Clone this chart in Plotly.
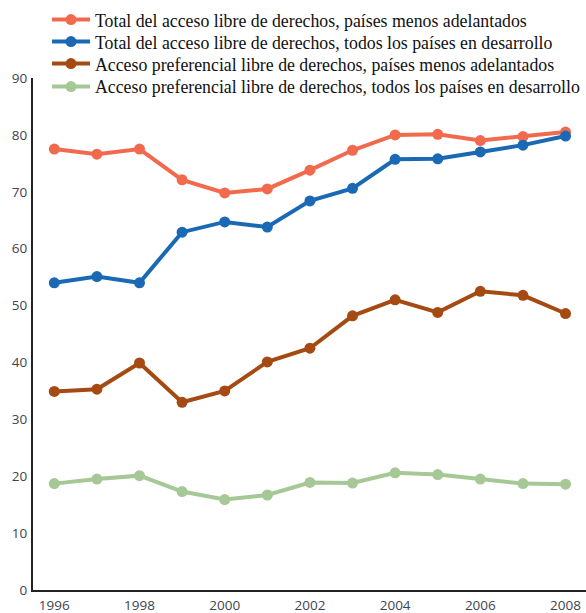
import plotly.graph_objects as go

years = [1996, 1997, 1998, 1999, 2000, 2001, 2002, 2003, 2004, 2005, 2006, 2007, 2008]

names = [
    "Total del acceso libre de derechos, países menos adelantados",
    "Total del acceso libre de derechos, todos los países en desarrollo",
    "Acceso preferencial libre de derechos, países menos adelantados",
    "Acceso preferencial libre de derechos, todos los países en desarrollo",
]

total_ldc = [77.5, 76.6, 77.5, 72.1, 69.8, 70.5, 73.8, 77.3, 80.0, 80.1, 79.0, 79.7, 80.5]
total_dev = [54.0, 55.1, 54.0, 62.9, 64.7, 63.8, 68.4, 70.6, 75.7, 75.8, 77.0, 78.2, 79.8]
pref_ldc = [34.9, 35.3, 39.9, 33.0, 35.0, 40.1, 42.5, 48.2, 51.0, 48.8, 52.5, 51.8, 48.6]
pref_dev = [18.7, 19.5, 20.1, 17.3, 15.9, 16.7, 18.9, 18.8, 20.6, 20.3, 19.5, 18.7, 18.6]

colors = ["#F26A4E", "#1A69B4", "#A54A12", "#A6C896"]

y_ticks = [0, 10, 20, 30, 40, 50, 60, 70, 80, 90]
x_ticks = [1996, 1998, 2000, 2002, 2004, 2006, 2008]

legend_ids = ["legend", "legend2", "legend3", "legend4"]
legend_y = [1.1133, 1.0703, 1.0273, 0.9825]

fig = go.Figure()
for name, vals, col, lid in zip(names, [total_ldc, total_dev, pref_ldc, pref_dev], colors, legend_ids):
    fig.add_trace(go.Scatter(
        x=years, y=vals, name=name, mode="lines+markers",
        line=dict(color=col, width=4),
        marker=dict(color=col, size=11),
        cliponaxis=False,
        legend=lid,
    ))

tick_font = dict(family="Open Sans, sans-serif", size=13.5, color="#3f4450")
legend_font = dict(family="Liberation Serif, Times New Roman, serif", size=17.8, color="#111111")

legend_common = dict(
    x=0.0253, xanchor="left", yanchor="middle",
    font=legend_font, bgcolor="rgba(0,0,0,0)", itemwidth=38,
)

layout_legends = {}
for lid, ly in zip(legend_ids, legend_y):
    layout_legends[lid] = dict(legend_common, y=ly)

fig.update_layout(
    width=586, height=613,
    margin=dict(l=33, r=0, t=78, b=23, autoexpand=False),
    paper_bgcolor="white", plot_bgcolor="white",
    showlegend=True,
    xaxis=dict(
        range=[1995.5, 2008.48], tickvals=x_ticks, ticktext=[str(v) for v in x_ticks],
        showgrid=False, zeroline=False, showline=True, linecolor="#222222", linewidth=2,
        ticks="", tickfont=tick_font, ticklabelstandoff=2, automargin=False,
    ),
    yaxis=dict(
        range=[0, 90], tickvals=y_ticks, showgrid=False, zeroline=False,
        showline=True, linecolor="#222222", linewidth=2, ticks="", tickfont=tick_font,
        ticklabelstandoff=1, automargin=False,
    ),
    **layout_legends,
)

fig.write_html(
    "out.html",
    config={"displayModeBar": False},
    post_script="document.body.style.margin='0';document.body.style.overflow='hidden';",
)
